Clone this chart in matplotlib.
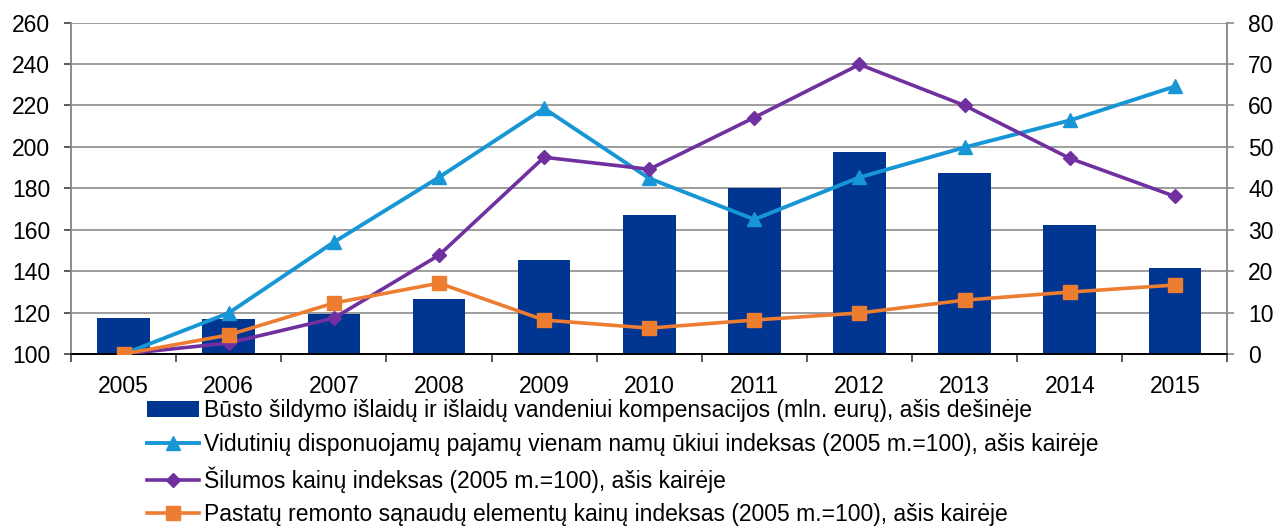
import matplotlib
matplotlib.use("Agg")
import matplotlib.pyplot as plt
import numpy as np

years = ["2005", "2006", "2007", "2008", "2009", "2010", "2011", "2012", "2013", "2014", "2015"]
compensations = [8.7, 8.4, 9.6, 13.3, 22.7, 33.5, 40.0, 48.7, 43.6, 31.1, 20.7]
income_index = [100, 119.8, 154, 185.3, 218.6, 184.8, 165, 185.3, 199.8, 212.8, 229.2]
heat_price_index = [100, 105.3, 117.3, 147.7, 195, 189.2, 214.2, 239.8, 220, 194.5, 176.1]
repair_cost_index = [100, 109.2, 124.6, 134.2, 116.4, 112.5, 116.4, 119.8, 126, 129.9, 133.3]

labels = [
    "Būsto šildymo išlaidų ir išlaidų vandeniui kompensacijos (mln. eurų), ašis dešinėje",
    "Vidutinių disponuojamų pajamų vienam namų ūkiui indeksas (2005 m.=100), ašis kairėje",
    "Šilumos kainų indeksas (2005 m.=100), ašis kairėje",
    "Pastatų remonto sąnaudų elementų kainų indeksas (2005 m.=100), ašis kairėje",
]

plt.rcParams['font.family'] = ['Liberation Sans', 'DejaVu Sans']
FS = 16.5

fig = plt.figure(figsize=(12.77, 5.27), dpi=100)
ax = fig.add_axes([0.0556, 0.3283, 0.9056, 0.6287])
ax2 = ax.twinx()
ax.set_zorder(ax2.get_zorder() + 1)
ax.patch.set_visible(False)

x = np.arange(len(years))
bar_c = "#003591"
blue_c = "#1796D6"
purple_c = "#7030A0"
orange_c = "#ED7D31"

bars = ax2.bar(x, compensations, width=0.5, color=bar_c, zorder=2)
ax2.set_ylim(0, 80)
ax2.set_yticks(np.arange(0, 81, 10))
ax2.grid(axis='y', color='#8c8c8c', linewidth=1.2, zorder=0)
ax2.set_axisbelow(True)

l1, = ax.plot(x, income_index, color=blue_c, lw=2.8, marker='^', ms=10, zorder=3)
l2, = ax.plot(x, heat_price_index, color=purple_c, lw=2.6, marker='D', ms=7, zorder=3)
l3, = ax.plot(x, repair_cost_index, color=orange_c, lw=2.6, marker='s', ms=10.5, zorder=4)
ax.set_ylim(100, 260)
ax.set_yticks(np.arange(100, 261, 20))
ax.set_xlim(-0.5, len(years) - 0.5)
ax.set_xticks(x)
ax.set_xticklabels(years)
ax.set_xticks(np.arange(-0.5, len(years), 1.0), minor=True)
ax.tick_params(axis='x', which='major', length=0, labelsize=FS, pad=15)
ax.tick_params(axis='x', which='minor', length=5.5, width=1.2, color='#404040')
ax.tick_params(axis='y', length=5, width=1.2, color='#404040', labelsize=FS, pad=10)
ax2.tick_params(axis='y', length=5, width=1.2, color='#8c8c8c', labelsize=FS, pad=10)

for a in (ax, ax2):
    a.spines['top'].set_visible(False)
    a.spines['left'].set_color('#8c8c8c')
    a.spines['right'].set_color('#8c8c8c')
    a.spines['left'].set_linewidth(1.2)
    a.spines['right'].set_linewidth(1.2)
    a.spines['bottom'].set_color('#000000')
    a.spines['bottom'].set_linewidth(1.2)

leg = fig.legend([bars, l1, l2, l3], labels, loc='upper left',
                 bbox_to_anchor=(0.115, 0.242), frameon=False, fontsize=FS,
                 borderpad=0, labelspacing=0.45, handlelength=2.27,
                 handletextpad=0.22, borderaxespad=0)

fig.savefig("out.png", dpi=100)
